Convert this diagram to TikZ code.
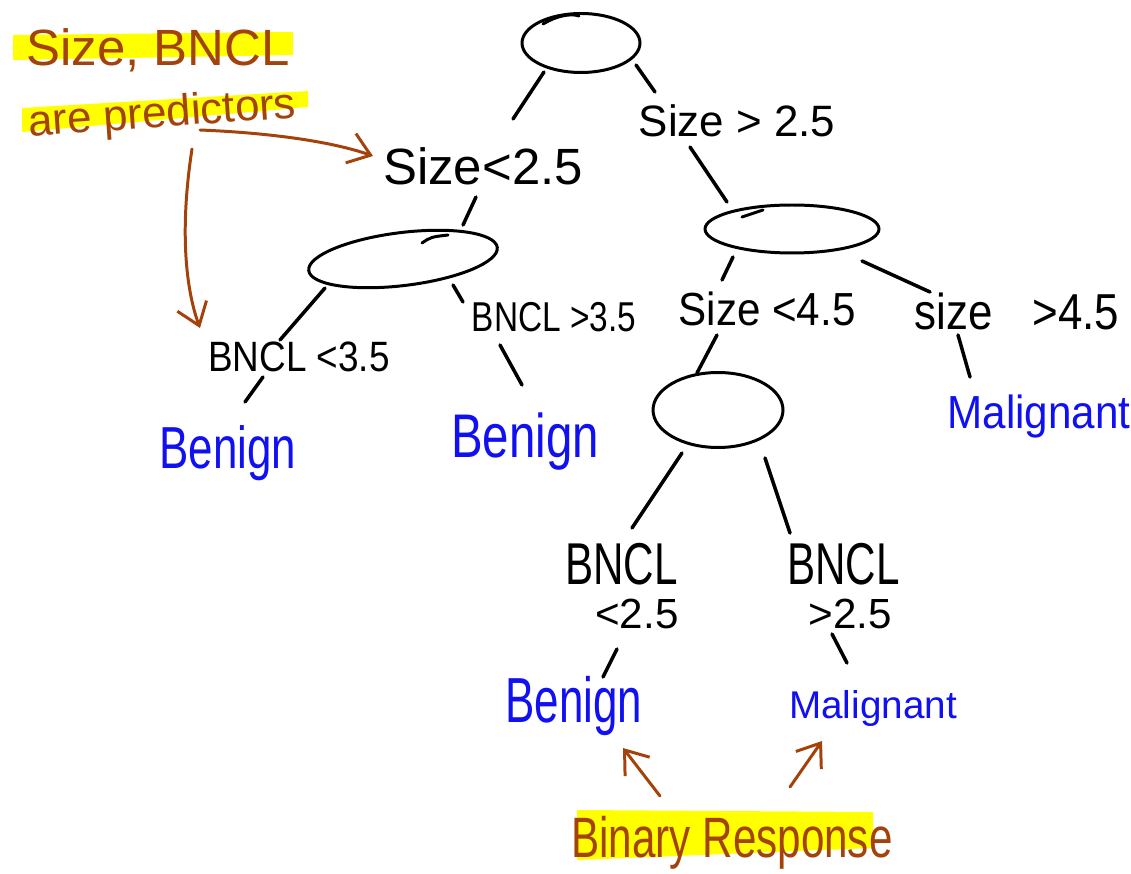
\documentclass[tikz,border=0pt]{standalone}
\usepackage{graphicx}
\usepackage{fontspec}
\setmainfont{Liberation Sans}
\usetikzlibrary{shapes.geometric,arrows.meta,calc}
\definecolor{inkblue}{RGB}{16,16,240}
\definecolor{inkbrown}{RGB}{163,66,10}
\definecolor{marker}{RGB}{255,255,0}
\newcommand\penfs[1]{\fontsize{#1}{#1}\selectfont}
% stretch handwritten-looking words vertically
\newcommand\tallword[2]{\scalebox{1}[#1]{#2}}

\begin{document}
\begin{tikzpicture}[x=0.02cm,y=-0.02cm,
  split/.style={draw, ellipse, line width=1.7pt, inner sep=0pt},
  cond/.style={anchor=base, inner sep=0pt},
  pair/.style={anchor=north west, align=left, inner sep=0pt,
               font=\fontsize{24}{25}\selectfont},
  leaf/.style={anchor=base, inner sep=0pt, text=inkblue},
  note/.style={anchor=base, inner sep=0pt, text=inkbrown},
  link/.style={line width=2pt, line cap=round},
  overshoot/.style={line width=1.7pt, line cap=round},
  pointer/.style={draw=inkbrown, line width=1.7pt, line cap=round, line join=round,
                  -{Straight Barb[length=0.42cm,width=0.62cm]}}]
\path[use as bounding box] (0,0) rectangle (1131,874);

% marker highlights behind the annotations
\fill[marker] (13,35) -- (293,32) -- (293,55) -- (13,60) -- cycle;
\fill[marker] (22,108) -- (308,91) -- (308,107) -- (22,132) -- cycle;
\fill[marker] (577,810) -- (873,812) -- (873,848) -- (577,860) -- cycle;

% split nodes
\node[split, minimum width=2.36cm, minimum height=1.18cm] (root) at (581,43) {};
\node[split, minimum width=3.8cm, minimum height=1.06cm, rotate=7] (left) at (403,259) {};
\node[split, minimum width=3.48cm, minimum height=0.96cm] (right) at (792,229) {};
\node[split, minimum width=2.6cm, minimum height=1.5cm] (low) at (718,410) {};

% pen overshoots where the ellipses were closed
\draw[overshoot] ($(root)+(-38,-19)$) .. controls ($(root)+(-25,-27)$) and ($(root)+(-10,-30)$) .. ($(root)+(-2,-27)$);
\draw[overshoot] ($(right)+(-50,-12)$) .. controls ($(right)+(-40,-16)$) .. ($(right)+(-29,-19)$);
\draw[overshoot] ($(left)+(19,-16)$) .. controls ($(left)+(28,-22)$) .. ($(left)+(45,-24)$);

% split conditions
\node[cond, font=\penfs{29}] (sl) at (483,185) {Size<2.5};
\node[cond, font=\penfs{25}] (sg) at (737,137) {Size > 2.5};
\node[cond, font=\penfs{21}] (bl3) at (299,372) {\tallword{1.15}{BNCL <3.5}};
\node[cond, font=\penfs{19}] (bg3) at (554,332) {\tallword{1.25}{BNCL >3.5}};
\node[cond, font=\penfs{24}] (sl4) at (767,326) {\tallword{1.1}{Size <4.5}};
\node[cond, font=\penfs{25}] (sg4) at (1017,330) {\tallword{1.15}{size\hspace{0.9em}>4.5}};
\node[pair] (bl2) at (565,543) {\tallword{1.4}{BNCL}\\\hspace*{17pt}<2.5};
\node[pair] (bg2) at (787,543) {\tallword{1.4}{BNCL}\\\hspace*{12pt}>2.5};

% leaves
\node[leaf, font=\penfs{25}] (b1) at (228,468) {\tallword{1.35}{Benign}};
\node[leaf, font=\penfs{27}] (b2) at (525,457) {\tallword{1.3}{Benign}};
\node[leaf, font=\penfs{24}] (m1) at (1039,428) {\tallword{1.1}{Malignant}};
\node[leaf, font=\penfs{25}] (b3) at (574,722) {\tallword{1.45}{Benign}};
\node[leaf, font=\penfs{22}] (m2) at (873,718) {Malignant};

% annotations
\node[note, font=\penfs{29}] (vars) at (158,66) {Size, BNCL};
\node[note, font=\penfs{25}, rotate=4] (pred) at (163,127) {are predictors};
\node[note, font=\penfs{24}] (resp) at (732,857) {\tallword{1.35}{Binary Response}};

% tree edges
\draw[link] ($(root)+(-37,29)$) -- ($(sl.base)+(30,-66)$);
\draw[link] ($(root)+(55,22)$) -- ($(sg.base)+(-82,-45)$);
\draw[link] ($(sl.base)+(-7,12)$) -- ($(left)+(60,-34)$);
\draw[link] ($(sg.base)+(-47,10)$) -- ($(right)+(-65,-27)$);
\draw[link] ($(left)+(-78,29)$) -- ($(bl3.base)+(-19,-32)$);
\draw[link] ($(left)+(50,26)$) -- ($(bg3.base)+(-91,-30)$);
\draw[link] ($(bl3.base)+(-36,5)$) -- ($(b1.base)+(17,-66)$);
\draw[link] ($(bg3.base)+(-54,13)$) -- ($(b2.base)+(-3,-72)$);
\draw[link] ($(right)+(-59,28)$) -- ($(sl4.base)+(-45,-46)$);
\draw[link] ($(right)+(70,32)$) -- ($(sg4.base)+(-87,-38)$);
\draw[link] ($(sg4.base)+(-59,5)$) -- ($(m1.base)+(-69,-51)$);
\draw[link] ($(sl4.base)+(-50,9)$) -- ($(low)+(-21,-37)$);
\draw[link] ($(low)+(-36,43)$) -- ($(bl2.north west)+(67,-15)$);
\draw[link] ($(low)+(47,48)$) -- ($(bg2.north west)+(3,-10)$);
\draw[link] ($(bl2.north west)+(52,106)$) -- ($(b3.base)+(29,-45)$);
\draw[link] ($(bg2.north west)+(45,91)$) -- ($(m2.base)+(-26,-55)$);

% annotation pointers
\draw[pointer] ($(pred.base)+(37,3)$) .. controls ($(pred.base)+(110,6)$) and ($(pred.base)+(170,15)$) .. ($(sl.base)+(-110,-29)$);
\draw[pointer] ($(pred.base)+(29,22)$) .. controls ($(pred.base)+(17,100)$) and ($(pred.base)+(22,160)$) .. ($(bl3.base)+(-99,-44)$);
\draw[pointer] ($(resp.base)+(-72,-61)$) -- ($(b3.base)+(49,26)$);
\draw[pointer] ($(resp.base)+(58,-70)$) -- ($(m2.base)+(-51,23)$);
\end{tikzpicture}
\end{document}
